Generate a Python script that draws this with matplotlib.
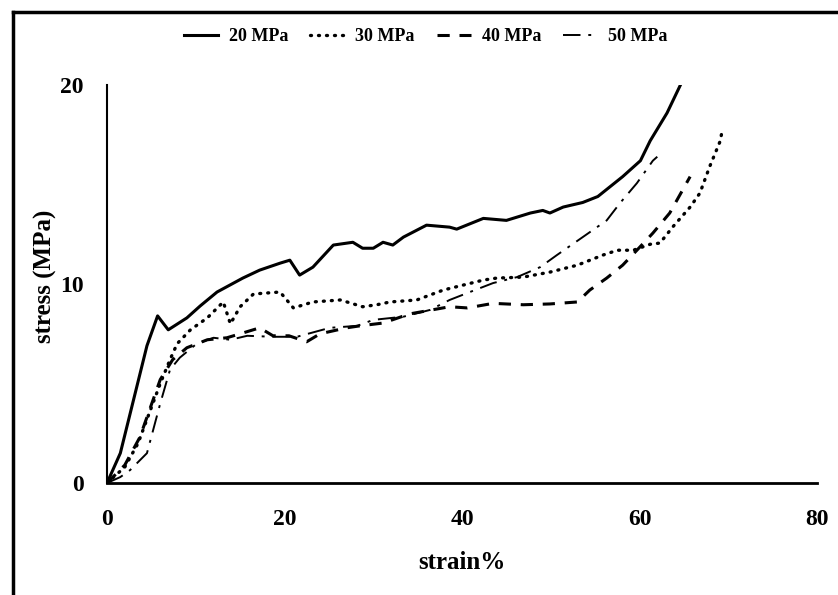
import matplotlib.pyplot as plt
from matplotlib.lines import Line2D

# ========================
# DATA
# ========================
s20_x = [0, 1.5, 3, 4.5, 5.7, 6.9, 9, 10.5, 12.4, 15.3, 17.2, 19.5, 20.6, 21.7, 23.2,
         25.5, 27.7, 28.8, 30, 31.1, 32.2, 33.4, 36, 38.6, 39.4, 42.4, 45, 47.7, 49.1,
         49.9, 51.4, 53.6, 55.3, 56.7, 58.1, 60.1, 61.2, 63.1, 64.6]
s20_y = [0, 1.5, 4.2, 6.9, 8.4, 7.7, 8.3, 8.9, 9.6, 10.3, 10.7, 11.05, 11.2, 10.45, 10.85,
         11.96, 12.1, 11.8, 11.8, 12.1, 11.96, 12.36, 12.96, 12.86, 12.76, 13.3, 13.2, 13.57, 13.7,
         13.57, 13.87, 14.1, 14.4, 14.9, 15.4, 16.2, 17.2, 18.6, 20.0]

s30_x = [0, 2, 3.5, 4.5, 6, 7.1, 7.9, 9.4, 11.3, 13.1, 13.9, 15, 16.5, 19.5, 21, 23.2,
         26.3, 28.8, 30.4, 31.9, 34.9, 37.9, 42.4, 43.9, 46.9, 49.9, 53, 55.9, 57.5,
         59.3, 61.2, 62.3, 63.8, 65.7, 66.8, 67.9, 69.1, 69.3]
s30_y = [0, 0.8, 2.0, 3.2, 5.0, 6.2, 7.0, 7.7, 8.3, 9.1, 8.0, 8.86, 9.5, 9.6, 8.8, 9.1,
         9.2, 8.86, 8.96, 9.1, 9.2, 9.7, 10.2, 10.3, 10.35, 10.6, 10.95, 11.46, 11.7,
         11.7, 12.0, 12.06, 12.9, 13.87, 14.57, 15.9, 17.2, 17.7]

s40_x = [0, 2, 3.7, 6, 7.4, 9, 11.3, 13.5, 15, 17.2, 18.7, 20.5, 22.5, 24, 27, 28.5,
         31.1, 34.1, 38.6, 40.6, 43.5, 46.9, 49.9, 53, 54.4, 56.3, 58.1, 59.7, 61.5,
         63.4, 65.7]
s40_y = [0, 0.9, 2.3, 5.2, 6.2, 6.8, 7.2, 7.3, 7.5, 7.8, 7.4, 7.4, 7.1, 7.5, 7.8, 7.9,
         8.04, 8.5, 8.86, 8.8, 9.03, 8.96, 9.0, 9.1, 9.7, 10.3, 10.95, 11.7, 12.56,
         13.57, 15.4]

s50_x = [0, 1.5, 2.6, 4.5, 6, 7.1, 8.2, 10.1, 12, 13.9, 15.8, 18.7, 21.4, 25.1, 28.2,
         30, 33.4, 36.4, 38.6, 40.6, 43.5, 46.2, 48.8, 50.7, 53.6, 56.3, 57.8, 59.7,
         61.5, 62]
s50_y = [0, 0.3, 0.65, 1.5, 4.0, 5.7, 6.3, 7.0, 7.3, 7.2, 7.4, 7.35, 7.35, 7.8, 7.9,
         8.2, 8.36, 8.7, 9.2, 9.55, 10.05, 10.35, 10.85, 11.46, 12.36, 13.2, 14.07,
         15.07, 16.2, 16.4]

labels = ["20 MPa", "30 MPa", "40 MPa", "50 MPa"]
x_ticks = [0, 20, 40, 60, 80]
y_ticks = [0, 10, 20]

# ========================
# PLOT
# ========================
plt.rcParams["font.family"] = "Liberation Serif"
plt.rcParams["font.weight"] = "bold"

fig = plt.figure(figsize=(8.38, 5.95), dpi=100)
ax = fig.add_axes([0.1277, 0.1882, 0.8473, 0.6688])

ax.plot(s20_x, s20_y, color="black", linewidth=2.2, linestyle="-", label=labels[0])
ax.plot(s30_x, s30_y, color="black", linewidth=2.4, linestyle=(0, (0.3, 2.1)),
        dash_capstyle="round", label=labels[1])
ax.plot(s40_x, s40_y, color="black", linewidth=2.2, linestyle=(0, (4, 3.2)), label=labels[2])
ax.plot(s50_x, s50_y, color="black", linewidth=1.4, linestyle=(0, (9, 4, 1.5, 4)), label=labels[3])

ax.set_xlim(0, 80)
ax.set_ylim(0, 20)
ax.set_xticks(x_ticks)
ax.set_yticks(y_ticks)
ax.tick_params(axis="x", length=0, labelsize=17, pad=19)
ax.tick_params(axis="y", length=0, labelsize=17, pad=17)
for lab in ax.get_xticklabels() + ax.get_yticklabels():
    lab.set_fontweight("bold")

ax.spines["top"].set_visible(False)
ax.spines["right"].set_visible(False)
ax.spines["left"].set_linewidth(1.5)
ax.spines["bottom"].set_linewidth(2.0)

ax.set_xlabel("strain%", fontsize=18, fontweight="bold")
ax.set_ylabel("stress (MPa)", fontsize=18, fontweight="bold")
ax.xaxis.set_label_coords(0.5, -0.172)
ax.yaxis.set_label_coords(-0.071, 0.52)

fig.legend(loc="upper center", bbox_to_anchor=(0.508, 0.98), ncol=4, frameon=False,
           prop={"size": 13, "weight": "bold"}, handlelength=1.9, columnspacing=1.2,
           handletextpad=0.6)

# outer frame (left and top edges)
fx = 13 / 838
fy = 1 - 12 / 595
fig.add_artist(Line2D([fx, fx], [0, fy], transform=fig.transFigure,
                      color="black", linewidth=2.5))
fig.add_artist(Line2D([fx, 1], [fy, fy], transform=fig.transFigure,
                      color="black", linewidth=2.5))

fig.savefig("out.png", dpi=100)
